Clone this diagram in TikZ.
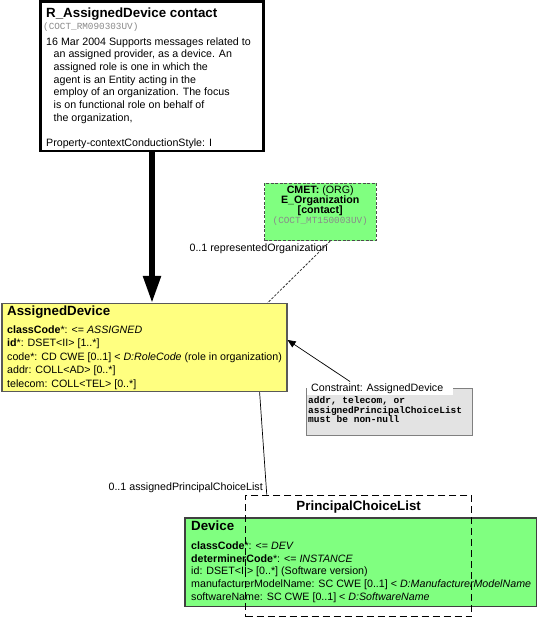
\documentclass[tikz,border=0pt]{standalone}
\usepackage{fontspec}
\setmainfont{Liberation Sans}
\setmonofont{Liberation Mono}
\usetikzlibrary{positioning,arrows.meta,shadows}

\definecolor{clsyellow}{HTML}{FFFF80}
\definecolor{clsgreen}{HTML}{80FF80}
\definecolor{cnsgray}{HTML}{E3E3E3}
\definecolor{idgray}{HTML}{8A8A8A}

\tikzset{
  classbox/.style={draw=black!65, line width=1.2pt, inner sep=0pt},
  cmetbox/.style={draw=black!70, line width=1pt, dash pattern=on 3pt off 1.6pt, fill=clsgreen, inner sep=0pt},
  choicebox/.style={draw=black, line width=0.9pt, dash pattern=on 7pt off 4pt, inner sep=0pt},
  boxtext/.style={anchor=base west, inner sep=0pt, align=left, font=\fontsize{10.67}{#1}\selectfont},
  boxtext/.default=12.7,
  boxtitle/.style={anchor=base west, inner sep=0pt, font=\bfseries\fontsize{13.33}{16}\selectfont},
  idtext/.style={anchor=base west, inner sep=0pt, text=idgray, font=\ttfamily\fontsize{9.33}{10}\selectfont},
  assoc/.style={draw=black, line width=0.7pt}
}

\begin{document}
\begin{tikzpicture}[x=1pt,y=-1pt]
\useasboundingbox (0,0) rectangle (537,619);

% classes
\node[classbox, draw=black, line width=2.7pt, fill=white, minimum width=222.6pt, minimum height=149.7pt] (rdev) at (152,76.2) {};
\node[cmetbox, minimum width=111.5pt, minimum height=57.5pt] (cmet) at (320.25,211.75) {};
\node[classbox, fill=clsyellow, minimum width=285pt, minimum height=88pt] (adev) at (144.5,347.5) {};
\node[classbox, draw=black!75, fill=clsgreen, minimum width=351.5pt, minimum height=88.7pt] (dev) at (360.8,562.3) {};
\node[choicebox, minimum width=226pt, minimum height=121.7pt] (pcl) at (358.7,555.8) {};
\node[draw=black!50, line width=0.8pt, fill=cnsgray, inner sep=0pt, minimum width=166pt, minimum height=47pt,
      drop shadow={shadow xshift=1.2pt, shadow yshift=-1.2pt, fill=black!75, opacity=1}] (cons) at (389,411.5) {};

% texts (base of a multi-line node = last line)
\node[boxtitle] (rdevtitle) at (46,17) {R\_AssignedDevice contact};
\node[idtext] (rdevid) at (43,29) {(COCT\_RM090303UV)};
\node[boxtext] (rdevnote) at (46,146.6) {16 Mar 2004 Supports messages related to\\
  \hspace*{7.5pt}an assigned provider, as a device. An\\
  \hspace*{7.5pt}assigned role is one in which the\\
  \hspace*{7.5pt}agent is an Entity acting in the\\
  \hspace*{7.5pt}employ of an organization. The focus\\
  \hspace*{7.5pt}is on functional role on behalf of\\
  \hspace*{7.5pt}the organization,\\[12.7pt]
  Property-contextConductionStyle: I};

\node[anchor=base, inner sep=0pt, align=center, font=\fontsize{10.67}{10.1}\selectfont] (cmettext) at (320.25,223.6)
  {\textbf{CMET:} (ORG)\\ \textbf{E\_Organization}\\ \textbf{[contact]}\\
   {\ttfamily\color{idgray}\fontsize{9.33}{10.1}\selectfont (COCT\_MT150003UV)}};

\node[boxtitle] (adevtitle) at (7,315.7) {AssignedDevice};
\node[boxtext=13.5] (adevattr) at (7,387.3) {\textbf{classCode}*: <= \textit{ASSIGNED}\\
  \textbf{id}*: DSET<II> [1..*]\\
  code*: CD CWE [0..1] < \textit{D:RoleCode} (role in organization)\\
  addr: COLL<AD> [0..*]\\
  telecom: COLL<TEL> [0..*]};

\node[boxtitle] (devtitle) at (191,530) {Device};
\node[boxtext] (devattr) at (191,600.1) {\textbf{classCode}*: <= \textit{DEV}\\
  \textbf{determinerCode}*: <= \textit{INSTANCE}\\
  id: DSET<II> [0..*] (Software version)\\
  manufacturerModelName: SC CWE [0..1] < \textit{D:ManufacturerModelName}\\
  softwareName: SC CWE [0..1] < \textit{D:SoftwareName}};

\node[anchor=base, inner sep=0pt, font=\bfseries\fontsize{13.33}{16}\selectfont] (pcltitle) at (358.7,510.7) {PrincipalChoiceList};

\node[anchor=base west, fill=white, inner xsep=4pt, inner ysep=1.5pt,
      font=\fontsize{10.67}{12}\selectfont] (constitle) at (307,391) {\makebox[138pt][l]{Constraint: AssignedDevice}};
\node[anchor=base west, inner sep=0pt, align=left, font=\ttfamily\bfseries\fontsize{9.5}{9.2}\selectfont] (consbody) at (308,422.3)
  {addr, telecom, or\\assignedPrincipalChoiceList\\must be non-null};

% connectors
\draw[line width=5.3pt, -{Triangle[length=27pt,width=17pt]}] (rdev.south) -- (rdev.south |- adev.north);
\draw[assoc, draw=black!80, line width=0.8pt, dash pattern=on 2.5pt off 1.5pt] ([xshift=10pt]cmet.south) -- ([xshift=-20pt]adev.north east);
\node[boxtext, anchor=base east] (orglabel) at (328,251.7) {0..1 representedOrganization};
\draw[assoc] ([xshift=-28pt]adev.south east) -- ([xshift=21.5pt]pcl.north west);
\node[boxtext, anchor=base east] (pcllabel) at (263,490.7) {0..1 assignedPrincipalChoiceList};
\draw[assoc, -{Triangle[length=8pt,width=7pt]}] ([xshift=43pt]constitle.north west) -- ([yshift=7.5pt]adev.east);
\end{tikzpicture}
\end{document}
